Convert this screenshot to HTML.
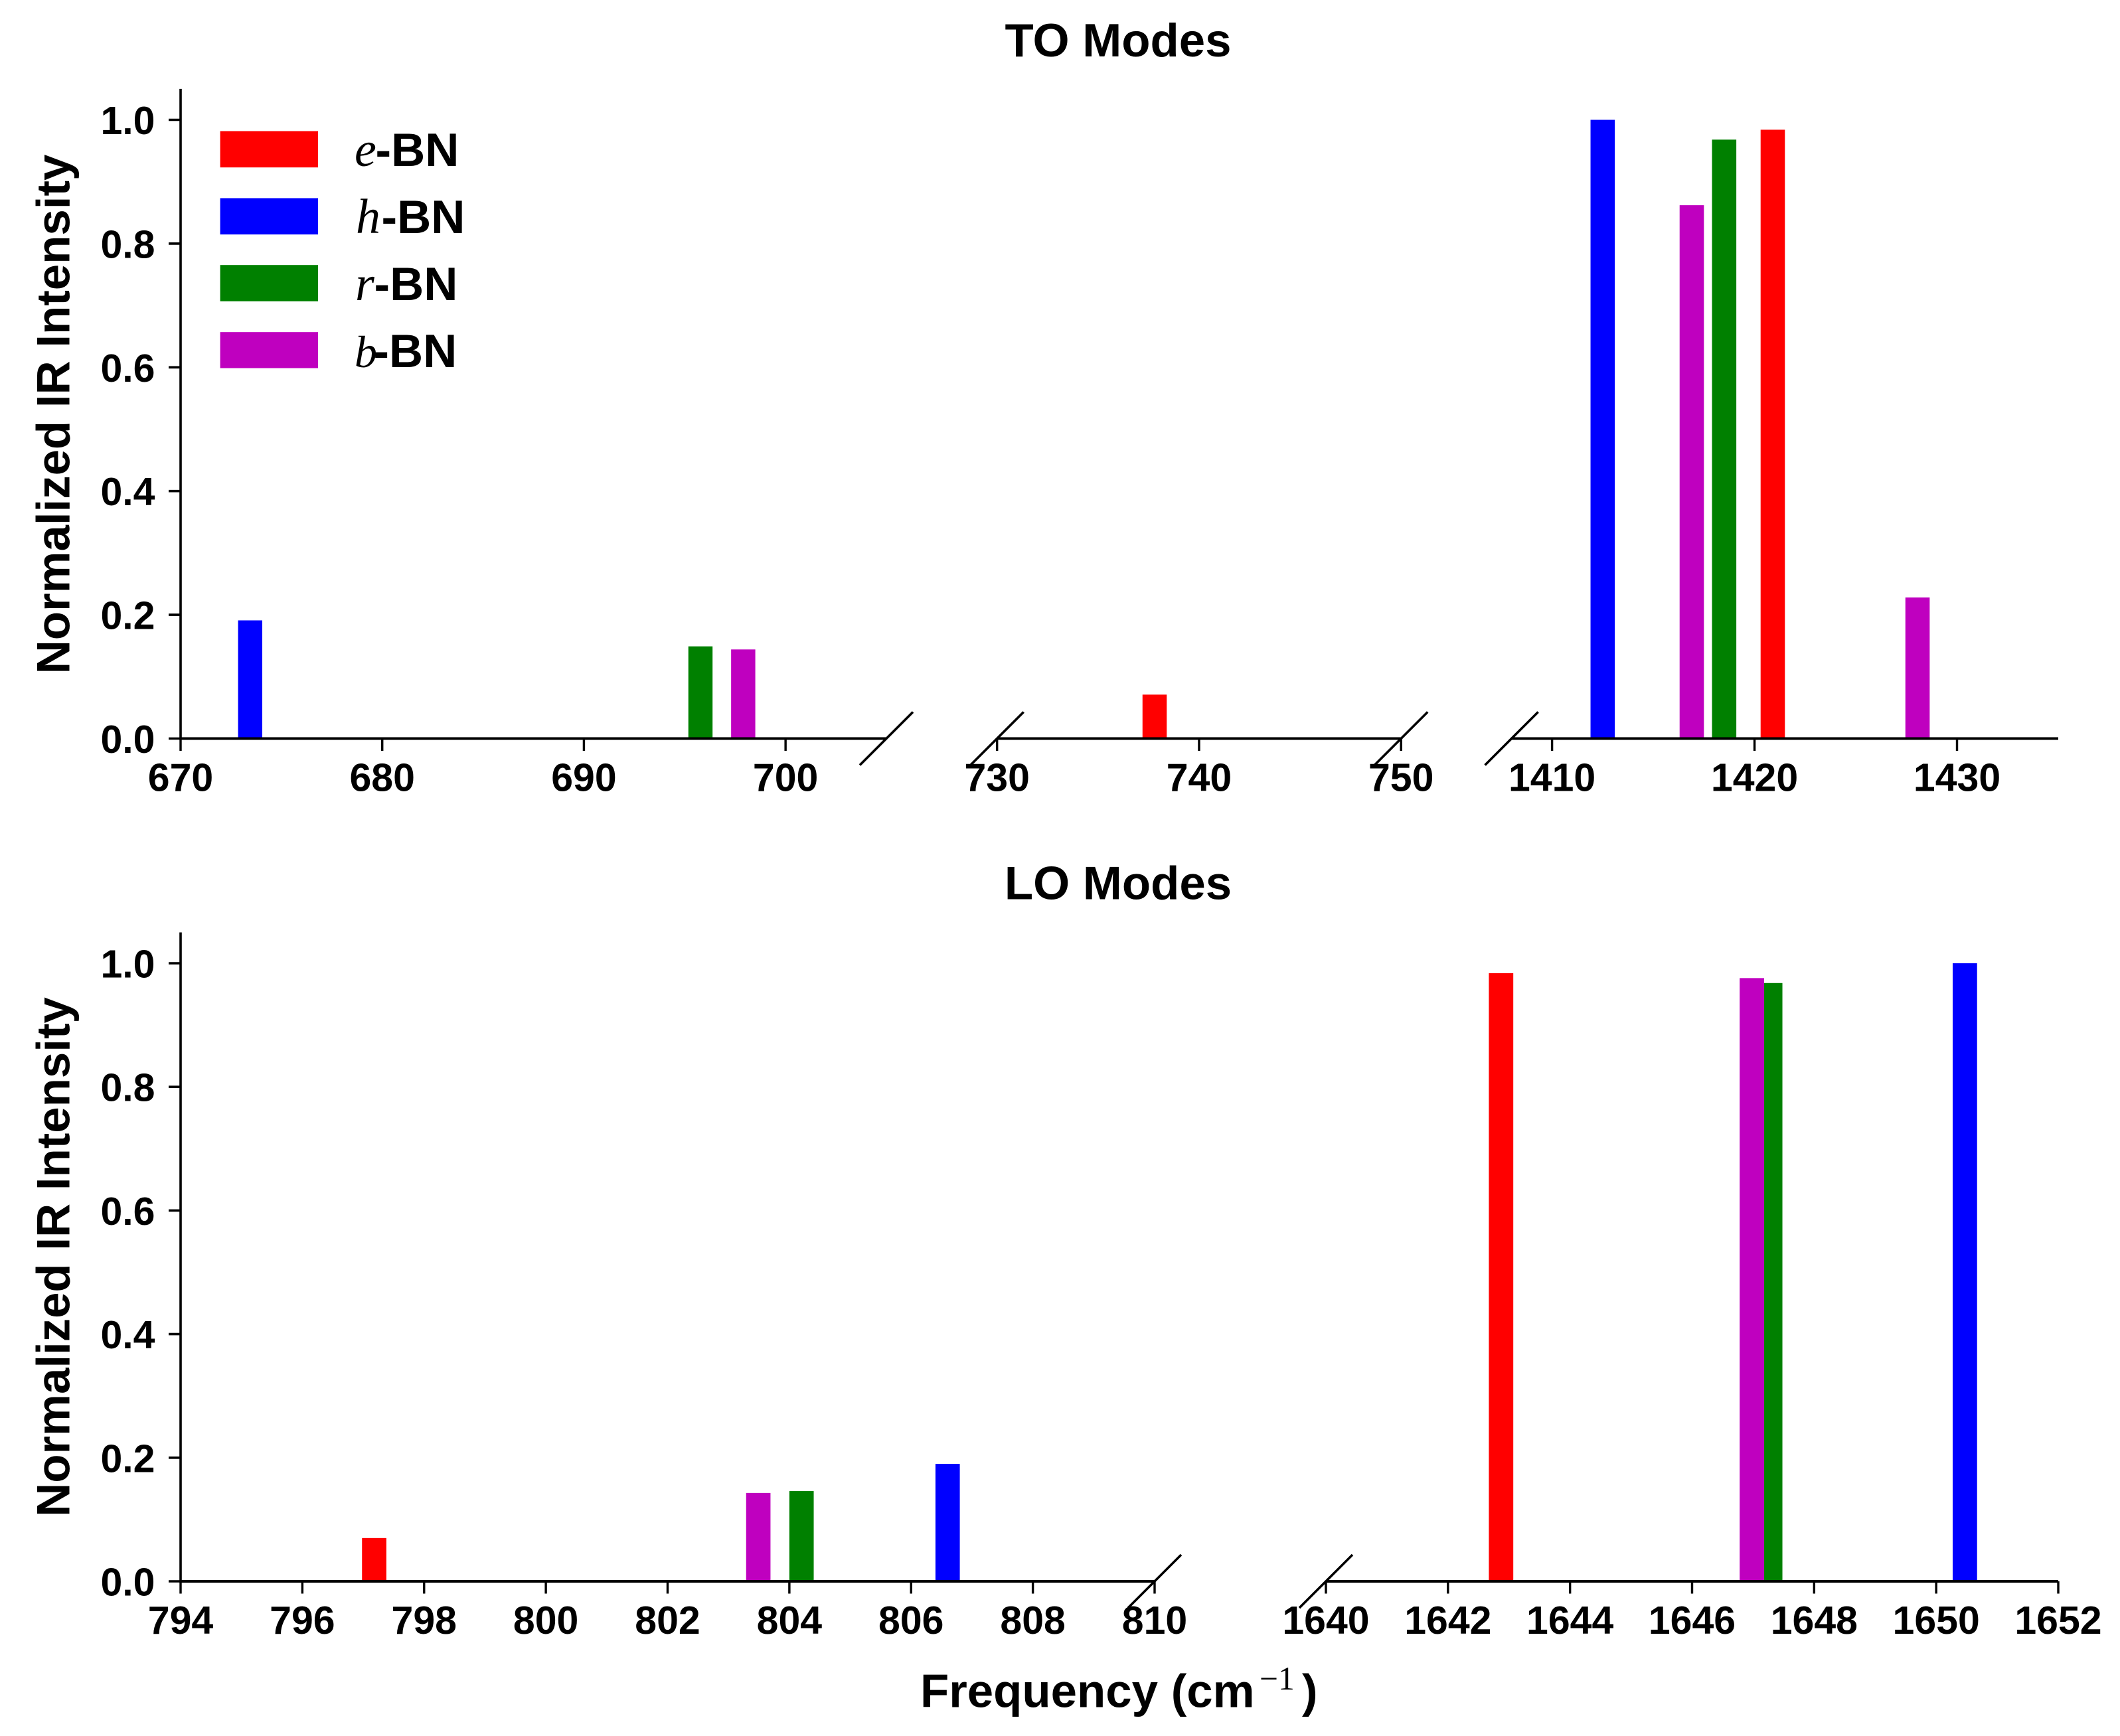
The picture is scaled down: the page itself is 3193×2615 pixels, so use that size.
<!DOCTYPE html>
<html lang="en">
<head>
<meta charset="utf-8">
<title>IR Intensity of BN Polytypes</title>
<style>
html,body{margin:0;padding:0;background:#fff;}
svg{display:block;}
text{font-family:"Liberation Sans",Arial,sans-serif;font-weight:bold;fill:#000;}
.math{font-family:"Liberation Serif",serif;font-style:italic;font-weight:normal;}
.roman{font-family:"Liberation Serif",serif;font-weight:normal;}
</style>
</head>
<body>
<svg id="chart" xmlns="http://www.w3.org/2000/svg" width="3193" height="2615" viewBox="0 0 3193 2615">
  <rect x="0" y="0" width="3193" height="2615" fill="#ffffff"/>
  <text x="1684" y="84.8" font-size="70.8" text-anchor="middle">TO Modes</text>
  <text x="1684" y="1354.3" font-size="70.8" text-anchor="middle">LO Modes</text>
  <text transform="translate(104.6 624) rotate(-90)" font-size="70.8" text-anchor="middle">Normalized IR Intensity</text>
  <text transform="translate(104.6 1893.5) rotate(-90)" font-size="70.8" text-anchor="middle">Normalized IR Intensity</text>
  <g>
    <text x="1386" y="2571.3" font-size="70.8">Frequency (cm</text>
    <text class="roman" x="1897" y="2545" font-size="49.6">−1</text>
    <text x="1961" y="2571.3" font-size="70.8">)</text>
  </g>
  <g id="plot"></g>
  <g>
    <g>
      <rect x="331.6" y="197.5" width="147.4" height="54.7" fill="#ff0000"/>
      <text class="math" x="534" y="250" font-size="74">e</text>
      <text x="565.5" y="250" font-size="70.8">-BN</text>
    </g>
    <g>
      <rect x="331.6" y="298.5" width="147.4" height="54.7" fill="#0000ff"/>
      <text class="math" x="536" y="351" font-size="74">h</text>
      <text x="574.5" y="351" font-size="70.8">-BN</text>
    </g>
    <g>
      <rect x="331.6" y="399.2" width="147.4" height="54.7" fill="#008000"/>
      <text class="math" x="535" y="452" font-size="74">r</text>
      <text x="563.5" y="452" font-size="70.8">-BN</text>
    </g>
    <g>
      <rect x="331.6" y="500.2" width="147.4" height="54.3" fill="#bf00bf"/>
      <text class="math" x="534" y="553" font-size="68">b</text>
      <text x="562.4" y="553" font-size="70.8">-BN</text>
    </g>
  </g>
</svg>
<script>
// Tick labels
const yTicks = [0, 0.2, 0.4, 0.6, 0.8, 1.0];
const toTicksLow = [670, 680, 690, 700];
const toTicksMid = [730, 740, 750];
const toTicksHigh = [1410, 1420, 1430];
const loTicksLow = [794, 796, 798, 800, 802, 804, 806, 808, 810];
const loTicksHigh = [1640, 1642, 1644, 1646, 1648, 1650, 1652];

// TO modes: frequency (cm-1) and normalized intensity
const toFreqE = [737.8, 1420.9];
const toIntE = [0.071, 0.984];
const toFreqH = [673.45, 1412.5];
const toIntH = [0.191, 1.0];
const toFreqR = [695.78, 1418.5];
const toIntR = [0.149, 0.968];
const toFreqB = [697.9, 1416.9, 1428.05];
const toIntB = [0.144, 0.862, 0.228];

// LO modes: frequency (cm-1) and normalized intensity
const loFreqE = [797.18, 1642.87];
const loIntE = [0.07, 0.984];
const loFreqH = [806.6, 1650.47];
const loIntH = [0.19, 1.0];
const loFreqR = [804.2, 1647.28];
const loIntR = [0.146, 0.968];
const loFreqB = [803.49, 1646.98];
const loIntB = [0.143, 0.976];

const SVG_NS = 'http://www.w3.org/2000/svg';
const plot = document.getElementById('plot');

function linear(d0, d1, r0, r1) {
  return function (v) { return r0 + (v - d0) * (r1 - r0) / (d1 - d0); };
}

// Broken x-axis segments for each panel.
const toSegments = [
  { lo: 670, hi: 705, scale: linear(670, 705, 272, 1335) },
  { lo: 730, hi: 750, scale: linear(730, 750, 1501.7, 2110.2) },
  { lo: 1408, hi: 1435, scale: linear(1408, 1435, 2276.6, 3100) }
];
const loSegments = [
  { lo: 794, hi: 810, scale: linear(794, 810, 272, 1739) },
  { lo: 1640, hi: 1652, scale: linear(1640, 1652, 1997, 3100) }
];
const toY = linear(0, 1, 1112.5, 180.5);
const loY = linear(0, 1, 2382, 1451);

function xOn(segments, v) {
  for (const s of segments) {
    if (v >= s.lo && v <= s.hi) return s.scale(v);
  }
  let best = segments[0];
  for (const s of segments) {
    if (Math.abs(v - (s.lo + s.hi) / 2) < Math.abs(v - (best.lo + best.hi) / 2)) best = s;
  }
  return best.scale(v);
}

function make(tag, attrs, parent) {
  const el = document.createElementNS(SVG_NS, tag);
  for (const k in attrs) el.setAttribute(k, attrs[k]);
  (parent || plot).appendChild(el);
  return el;
}

function drawBars(segments, y, freqs, ints, width, color, prefix) {
  freqs.forEach(function (f, i) {
    const left = xOn(segments, f - width / 2);
    const right = xOn(segments, f + width / 2);
    const rect = make('rect', { x: left, y: y(ints[i]), width: right - left, height: y(0) - y(ints[i]), fill: color });
    
    
  });
}

function drawLine(x1, y1, x2, y2, sw, name) {
  const line = make('line', { x1: x1, y1: y1, x2: x2, y2: y2, stroke: '#000', 'stroke-width': sw });
  
  
  return line;
}

function drawYAxis(y, panel) {
  drawLine(272, y(1.05), 272, y(0) + 2, 3.6, panel + '-y-axis-line');
  yTicks.forEach(function (t) {
    drawLine(254, y(t), 272, y(t), 3.6, panel + '-y-tick-' + t.toFixed(1));
    const label = make('text', { x: 233.5, y: y(t) + 21.5, 'font-size': 59, 'text-anchor': 'end' });
    label.textContent = t.toFixed(1);
    
    
  });
}

function drawXSegment(seg, ticks, y, panel) {
  const y0 = y(0);
  const startX = seg.scale(seg.lo);
  const endX = seg.scale(seg.hi);
  drawLine(startX, y0, endX, y0, 4, panel + '-x-axis-line-' + seg.lo);
  ticks.forEach(function (t) {
    const px = seg.scale(t);
    drawLine(px, y0, px, y0 + 18.5, 3.4, panel + '-x-tick-' + t);
    const label = make('text', { x: px, y: y0 + 79, 'font-size': 59, 'text-anchor': 'middle' });
    label.textContent = String(t);
    
    
  });
}

function drawBreak(px, y0, dx, panel, key) {
  drawLine(px - dx, y0 + 40, px + dx, y0 - 40, 3.6, panel + '-axis-break-' + key);
}

// TO panel
drawBars(toSegments, toY, toFreqE, toIntE, 1.2, '#ff0000', 'to-e');
drawBars(toSegments, toY, toFreqH, toIntH, 1.2, '#0000ff', 'to-h');
drawBars(toSegments, toY, toFreqR, toIntR, 1.2, '#008000', 'to-r');
drawBars(toSegments, toY, toFreqB, toIntB, 1.2, '#bf00bf', 'to-b');
drawYAxis(toY, 'to');
drawXSegment(toSegments[0], toTicksLow, toY, 'to');
drawXSegment(toSegments[1], toTicksMid, toY, 'to');
drawXSegment(toSegments[2], toTicksHigh, toY, 'to');
drawBreak(toSegments[0].scale(705), toY(0), 40, 'to', 'low-right');
drawBreak(toSegments[1].scale(730), toY(0), 40, 'to', 'mid-left');
drawBreak(toSegments[1].scale(750), toY(0), 40, 'to', 'mid-right');
drawBreak(toSegments[2].scale(1408), toY(0), 40, 'to', 'high-left');

// LO panel
drawBars(loSegments, loY, loFreqE, loIntE, 0.4, '#ff0000', 'lo-e');
drawBars(loSegments, loY, loFreqH, loIntH, 0.4, '#0000ff', 'lo-h');
drawBars(loSegments, loY, loFreqR, loIntR, 0.4, '#008000', 'lo-r');
drawBars(loSegments, loY, loFreqB, loIntB, 0.4, '#bf00bf', 'lo-b');
drawYAxis(loY, 'lo');
drawXSegment(loSegments[0], loTicksLow, loY, 'lo');
drawXSegment(loSegments[1], loTicksHigh, loY, 'lo');
drawBreak(loSegments[0].scale(810), loY(0), 40, 'lo', 'low-right');
drawBreak(loSegments[1].scale(1640), loY(0), 40, 'lo', 'high-left');
</script>
</body>
</html>
